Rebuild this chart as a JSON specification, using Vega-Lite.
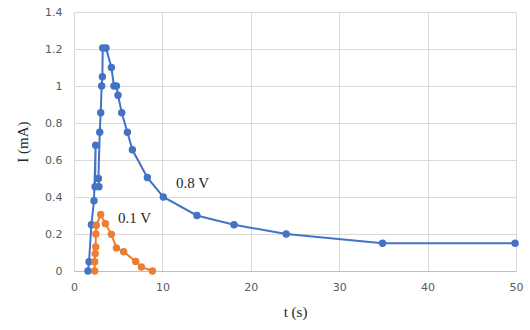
{
  "$schema": "https://vega.github.io/schema/vega-lite/v6.json",
  "width": 442,
  "height": 259,
  "autosize": "none",
  "padding": {"left": 74, "top": 12, "right": 14, "bottom": 59},
  "background": "white",
  "config": {
    "view": {"stroke": null},
    "axis": {
      "gridColor": "#d9d9d9",
      "gridWidth": 1,
      "domainColor": "#bfbfbf",
      "ticks": false,
      "labelFlush": false,
      "labelFont": "DejaVu Sans",
      "labelFontSize": 11,
      "labelColor": "#595959",
      "titleFont": "Liberation Serif",
      "titleFontSize": 15,
      "titleFontWeight": "normal",
      "titleColor": "#262626"
    }
  },
  "datasets": {
    "series": [
      {"i": 1, "s": "0.8 V", "t": 1.58, "I": 0},
      {"i": 2, "s": "0.8 V", "t": 1.70, "I": 0.05},
      {"i": 3, "s": "0.8 V", "t": 1.97, "I": 0.25},
      {"i": 4, "s": "0.8 V", "t": 2.26, "I": 0.38},
      {"i": 5, "s": "0.8 V", "t": 2.45, "I": 0.68},
      {"i": 6, "s": "0.8 V", "t": 2.38, "I": 0.455},
      {"i": 7, "s": "0.8 V", "t": 2.83, "I": 0.455},
      {"i": 8, "s": "0.8 V", "t": 2.76, "I": 0.50},
      {"i": 9, "s": "0.8 V", "t": 2.91, "I": 0.75},
      {"i": 10, "s": "0.8 V", "t": 3.02, "I": 0.855},
      {"i": 11, "s": "0.8 V", "t": 3.13, "I": 1.0},
      {"i": 12, "s": "0.8 V", "t": 3.21, "I": 1.05},
      {"i": 13, "s": "0.8 V", "t": 3.25, "I": 1.205},
      {"i": 14, "s": "0.8 V", "t": 3.62, "I": 1.205},
      {"i": 15, "s": "0.8 V", "t": 4.23, "I": 1.10},
      {"i": 16, "s": "0.8 V", "t": 4.52, "I": 1.0},
      {"i": 17, "s": "0.8 V", "t": 4.8, "I": 1.0},
      {"i": 18, "s": "0.8 V", "t": 4.98, "I": 0.95},
      {"i": 19, "s": "0.8 V", "t": 5.4, "I": 0.855},
      {"i": 20, "s": "0.8 V", "t": 6.04, "I": 0.75},
      {"i": 21, "s": "0.8 V", "t": 6.6, "I": 0.655},
      {"i": 22, "s": "0.8 V", "t": 8.3, "I": 0.505},
      {"i": 23, "s": "0.8 V", "t": 10.1, "I": 0.40},
      {"i": 24, "s": "0.8 V", "t": 13.9, "I": 0.30},
      {"i": 25, "s": "0.8 V", "t": 18.1, "I": 0.25},
      {"i": 26, "s": "0.8 V", "t": 24.0, "I": 0.20},
      {"i": 27, "s": "0.8 V", "t": 34.9, "I": 0.15},
      {"i": 28, "s": "0.8 V", "t": 49.9, "I": 0.15},
      {"i": 1, "s": "0.1 V", "t": 2.34, "I": 0},
      {"i": 2, "s": "0.1 V", "t": 2.34, "I": 0.05},
      {"i": 3, "s": "0.1 V", "t": 2.4, "I": 0.094},
      {"i": 4, "s": "0.1 V", "t": 2.45, "I": 0.13},
      {"i": 5, "s": "0.1 V", "t": 2.47, "I": 0.2},
      {"i": 6, "s": "0.1 V", "t": 2.53, "I": 0.247},
      {"i": 7, "s": "0.1 V", "t": 3.02, "I": 0.305},
      {"i": 8, "s": "0.1 V", "t": 3.55, "I": 0.256},
      {"i": 9, "s": "0.1 V", "t": 4.23, "I": 0.198},
      {"i": 10, "s": "0.1 V", "t": 4.8, "I": 0.125},
      {"i": 11, "s": "0.1 V", "t": 5.62, "I": 0.104},
      {"i": 12, "s": "0.1 V", "t": 6.98, "I": 0.052},
      {"i": 13, "s": "0.1 V", "t": 7.62, "I": 0.022},
      {"i": 14, "s": "0.1 V", "t": 8.87, "I": 0}
    ],
    "labels": [
      {"label": "0.8 V", "t": 13.4, "I": 0.474},
      {"label": "0.1 V", "t": 6.85, "I": 0.285}
    ]
  },
  "encoding": {
    "x": {
      "field": "t", "type": "quantitative",
      "scale": {"domain": [0, 50], "nice": false},
      "axis": {"tickCount": 5, "title": "t (s)", "labelPadding": 10, "titlePadding": 12, "domain": true, "grid": true}
    },
    "y": {
      "field": "I", "type": "quantitative",
      "scale": {"domain": [0, 1.4], "nice": false},
      "axis": {"tickCount": 7, "labelOverlap": false, "labelSeparation": 0, "format": "~g", "title": "I (mA)", "labelPadding": 12, "titlePadding": 14, "domain": false}
    }
  },
  "layer": [
    {
      "data": {"name": "series"},
      "mark": {"type": "line", "strokeWidth": 2, "point": {"filled": true, "size": 55, "opacity": 1}},
      "encoding": {
        "color": {
          "field": "s", "type": "nominal",
          "scale": {"domain": ["0.8 V", "0.1 V"], "range": ["#4472C4", "#ED7D31"]},
          "legend": null
        },
        "detail": {"field": "s"},
        "order": {"field": "i", "type": "quantitative"}
      }
    },
    {
      "data": {"name": "labels"},
      "mark": {"type": "text", "font": "Liberation Serif", "fontSize": 15, "color": "#262626", "align": "center", "baseline": "middle"},
      "encoding": {
        "text": {"field": "label"}
      }
    }
  ]
}
